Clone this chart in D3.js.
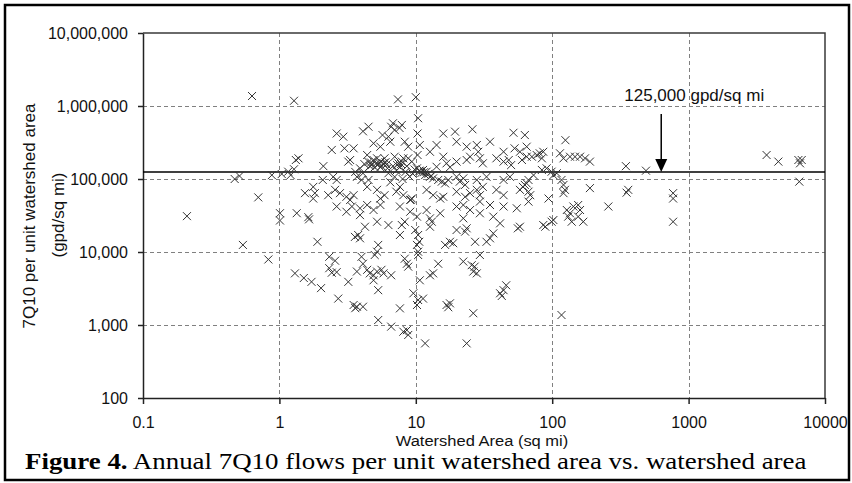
<!DOCTYPE html>
<html>
<head>
<meta charset="utf-8">
<script src="https://cdn.jsdelivr.net/npm/d3@7/dist/d3.min.js"></script>
<style>
  body { margin: 0; background: #fff; }
  svg { display: block; }
  .tick text { font-family: 'Liberation Sans', Arial, sans-serif; font-size: 16px; fill: #111; }
</style>
</head>
<body>
<svg id="chart" width="852" height="483"></svg>
<script>
// gauged sites: [watershed area (sq mi), 7Q10 per unit area (gpd/sq mi)]
const sitesBelow1 = [
  [0.63, 1370000], [0.88, 113000], [0.51, 110000], [0.47, 100000], [0.70, 56000],
  [0.21, 31000], [0.54, 12500], [0.83, 7900]
]
const sites1to10 = [
  [1.28, 1180000], [1.38, 192000], [1.32, 182000], [2.1, 150000], [1.28, 136000], [1.16, 126000],
  [1.04, 117000], [1.21, 113000], [2.08, 97000], [1.77, 78000], [1.54, 64000], [1.82, 64000],
  [1.77, 54000], [2.28, 60000], [1.01, 34000], [1.01, 27000], [1.34, 34000], [1.63, 30000],
  [1.65, 28000], [1.9, 13800], [1.3, 5100], [1.51, 4400], [1.72, 3900], [2.02, 3200],
  [7.4, 1230000], [2.63, 420000], [2.94, 380000], [4.1, 450000], [5.7, 400000], [6.8, 580000],
  [6.6, 520000], [7.9, 550000], [4.5, 520000], [7.0, 470000], [7.6, 500000],
  [2.42, 250000], [3.0, 263000], [3.5, 263000], [4.9, 308000], [5.5, 277000], [6.3, 380000],
  [6.5, 324000], [8.3, 324000], [8.8, 277000],
  [3.2, 173000], [3.3, 182000], [4.4, 213000], [4.9, 182000], [5.2, 192000], [5.5, 173000],
  [5.8, 164000], [4.75, 155000], [5.0, 145000], [5.5, 145000], [5.9, 192000], [4.5, 171000],
  [7.0, 202000], [7.45, 164000], [7.65, 145000], [7.9, 173000], [8.1, 192000], [8.8, 192000],
  [9.35, 173000], [4.2, 160000], [4.7, 168000], [5.3, 158000], [5.6, 150000], [6.0, 170000],
  [6.2, 140000], [6.8, 150000], [7.2, 130000], [8.4, 125000], [9.5, 118000], [9.0, 108000],
  [3.9, 140000], [3.6, 125000], [8.0, 100000], [6.5, 90000],
  [4.6, 150000], [5.1, 162000], [5.4, 166000], [6.1, 158000], [7.3, 155000], [7.8, 160000],
  [8.6, 150000], [9.8, 135000],
  [2.48, 107000], [2.63, 97000], [3.7, 107000], [4.1, 120000], [4.0, 97000], [4.5, 97000],
  [6.3, 120000], [7.0, 107000],
  [2.56, 71000], [2.78, 64000], [3.1, 57000], [3.5, 60000], [4.4, 78000], [5.2, 71000],
  [5.9, 60000], [5.5, 54000], [7.65, 78000], [7.2, 67000], [8.1, 60000], [9.1, 51500],
  [9.35, 54000], [9.2, 52000],
  [2.63, 42000], [3.1, 35600], [3.9, 39700], [4.4, 44000], [4.9, 37600], [5.5, 44000],
  [7.65, 42000], [9.1, 35600], [3.4, 42000], [3.9, 32000], [3.3, 51500],
  [3.58, 16100], [3.78, 17100], [3.9, 15400], [4.24, 22200], [5.2, 26000], [6.3, 23400],
  [7.9, 23400], [8.3, 26000], [7.65, 17100], [9.9, 20000], [5.3, 12500], [5.2, 10100],
  [5.0, 9100], [4.0, 8600], [4.1, 6900], [2.32, 8600], [2.56, 7600], [2.32, 6000],
  [2.42, 5200], [2.63, 5300], [8.3, 8100], [8.6, 6900], [8.8, 6300], [3.7, 5400],
  [4.4, 5700], [4.6, 5100], [4.9, 4800], [5.2, 5400], [5.6, 5700], [5.8, 5100],
  [6.6, 4800], [3.2, 3900], [4.9, 4100], [5.3, 3000], [2.7, 2300], [3.5, 1880],
  [3.7, 1780], [3.6, 1700], [4.1, 1780], [7.65, 1690], [9.6, 2720], [5.3, 1170],
  [6.6, 950], [8.1, 810], [8.8, 730], [8.6, 850]
]
const sites10to100 = [
  [10.0, 1320000], [10.4, 680000], [10.3, 420000], [15.9, 420000], [19.4, 445000], [26, 480000],
  [52, 430000], [63, 400000],
  [10.7, 292000], [12.7, 236000], [14.2, 292000], [15.9, 202000], [19.9, 324000], [23.6, 277000],
  [28, 292000], [28.7, 236000], [35, 324000], [44, 236000], [53, 263000], [58, 236000], [65, 277000],
  [10.3, 213000], [10.2, 140000], [10.6, 130000], [11.3, 133000], [12.0, 126000], [14.2, 147000],
  [16.8, 164000], [17.8, 145000], [19.9, 173000], [23.6, 182000], [25, 202000], [29.5, 192000],
  [31, 164000], [39, 192000], [44, 173000], [48, 182000], [50, 155000], [60, 182000], [65, 202000],
  [11.0, 121000], [12.4, 118000], [13.0, 110000], [10.8, 128000], [11.5, 124000],
  [11.7, 113000], [12.7, 107000], [13.4, 102000], [14.6, 97000], [15.5, 92000], [16.4, 87000],
  [17.3, 97000], [19.9, 107000], [21, 92000], [22.3, 102000], [23, 83000], [33, 107000],
  [28, 97000], [31, 78000], [44, 97000], [49, 107000], [61, 78000], [65, 87000],
  [12.0, 71000], [13.4, 60000], [15.1, 54000], [15.9, 57000], [19.9, 67000], [23, 57000],
  [25, 64000], [28, 71000], [29.5, 60000], [39, 71000], [44, 60000], [58, 71000],
  [10.2, 30500], [12.0, 37600], [12.7, 28900], [15.1, 33900], [19.9, 42000], [22.3, 44000],
  [25, 37600], [29.5, 33900], [35, 44000], [37, 30500], [44, 42000], [55, 39700],
  [22.3, 28900], [29.5, 49000],
  [10.4, 17100], [10.6, 13800], [10.2, 12500], [12.7, 22200], [13.1, 26000], [16.4, 12500],
  [17.8, 13800], [18.8, 13200], [19.9, 20000], [23, 19000], [23.6, 21100], [27.2, 13800],
  [33, 13800], [35, 15400], [37, 18000], [41.5, 24700], [56, 21100],
  [10.4, 10100], [10.4, 9100], [14.6, 6900], [13.4, 5100], [12.7, 4800], [22.3, 7400],
  [25.7, 6600], [27, 6300], [26.4, 5400], [28, 5100], [29.5, 9100], [10.7, 4100],
  [10.4, 2200], [11.3, 2300], [10.2, 1880], [16.8, 1880], [17.8, 1980], [17.3, 1750],
  [26.4, 1450], [41.5, 2720], [44, 3000], [46, 3500], [42.7, 2500], [11.7, 560], [23.6, 560],
  [71, 202000], [77, 213000], [81, 225000], [84, 192000], [86, 236000], [84, 133000],
  [91, 140000], [99, 126000], [73, 113000], [67, 97000], [63, 83000], [67, 67000],
  [69, 60000], [67, 49000], [94, 54000], [86, 23400], [89, 22200], [99, 26000], [58, 22200]
]
const sitesOver100 = [
  [117, 1370], [125, 340000], [114, 225000], [121, 192000], [135, 202000], [147, 202000],
  [160, 202000], [174, 192000], [189, 173000], [102, 113000], [108, 120000], [117, 97000],
  [121, 83000], [124, 71000], [121, 64000], [189, 75000], [258, 42000], [347, 150000],
  [487, 130000], [361, 71000], [351, 65000], [770, 64000], [770, 54000], [770, 26000],
  [128, 37600], [135, 33900], [143, 42000], [155, 44000], [160, 37600], [131, 30500],
  [139, 26000], [169, 26000], [155, 30500], [102, 27400],
  [3730, 213000], [4550, 173000], [6380, 182000], [6750, 182000], [6560, 164000], [6480, 92000]
]

const xTicks = [0.1, 1, 10, 100, 1000, 10000]
const xTickLabels = ['0.1', '1', '10', '100', '1000', '10000']
const yTicks = [100, 1000, 10000, 100000, 1000000, 10000000]
const yTickLabels = ['100', '1,000', '10,000', '100,000', '1,000,000', '10,000,000']
const threshold = 125000
const thresholdLabel = '125,000 gpd/sq mi'
const arrowArea = 630

const sans = "'Liberation Sans', Arial, sans-serif"
const serif = "'Liberation Serif', 'Times New Roman', serif"

let svg = d3.select('#chart')
const plot = { left: 143, top: 33, right: 825, bottom: 398 }

svg.append('rect').attr('width', 852).attr('height', 483).attr('fill', '#fff')

// outer figure frame
svg.append('rect')
  .attr('x', 5).attr('y', 5).attr('width', 844).attr('height', 475)
  .attr('fill', 'none').attr('stroke', '#000').attr('stroke-width', 2.5)

const x = d3.scaleLog().domain([0.1, 10000]).range([plot.left, plot.right])
const y = d3.scaleLog().domain([100, 10000000]).range([plot.bottom, plot.top])

// dashed grid
const grid = svg.append('g').attr('class', 'grid')
  .attr('stroke', '#808080').attr('stroke-width', 1).attr('stroke-dasharray', '4,3')
grid.selectAll('.gx')
  .data(xTicks.slice(1, -1))
  .enter().append('line')
  .attr('x1', (d) => Math.round(x(d)) + 0.5).attr('x2', (d) => Math.round(x(d)) + 0.5)
  .attr('y1', plot.top).attr('y2', plot.bottom)
grid.selectAll('.gy')
  .data(yTicks.slice(1, -1))
  .enter().append('line')
  .attr('y1', (d) => Math.round(y(d)) + 0.5).attr('y2', (d) => Math.round(y(d)) + 0.5)
  .attr('x1', plot.left).attr('x2', plot.right)

// plot frame (top, right)
svg.append('path')
  .attr('d', `M${plot.left},${plot.top}H${plot.right}V${plot.bottom}`)
  .attr('fill', 'none').attr('stroke', '#3a3a3a').attr('stroke-width', 1.5)

// axes
const xAxis = svg.append('g')
  .attr('transform', `translate(0,${plot.bottom})`)
  .call(d3.axisBottom(x).tickValues(xTicks).tickSize(6).tickSizeOuter(0)
    .tickFormat((d, i) => xTickLabels[i]))
xAxis.select('.domain').attr('stroke', '#222').attr('stroke-width', 1.5)
xAxis.selectAll('.tick line').attr('stroke', '#222').attr('stroke-width', 1.5)
xAxis.selectAll('.tick text').attr('y', 30).attr('dy', 0)

const yAxis = svg.append('g')
  .attr('transform', `translate(${plot.left},0)`)
  .call(d3.axisLeft(y).tickValues(yTicks).tickSize(5).tickSizeOuter(0)
    .tickFormat((d, i) => yTickLabels[i]))
yAxis.select('.domain').attr('stroke', '#222').attr('stroke-width', 1.5)
yAxis.selectAll('.tick line').attr('stroke', '#222').attr('stroke-width', 1.5)
yAxis.selectAll('.tick text').attr('x', -15)

// 125,000 gpd/sq mi reference line
svg.append('line')
  .attr('x1', plot.left).attr('x2', plot.right)
  .attr('y1', y(threshold)).attr('y2', y(threshold))
  .attr('stroke', '#000').attr('stroke-width', 1.5)

// site markers
const allSites = [].concat(sitesBelow1, sites1to10, sites10to100, sitesOver100)
svg.append('g').attr('class', 'sites')
  .selectAll('path')
  .data(allSites)
  .enter().append('path')
  .attr('transform', (d) => `translate(${x(d[0])},${y(d[1])})`)
  .attr('d', 'M-4,-4L4,4M-4,4L4,-4')
  .attr('fill', 'none').attr('stroke', '#333').attr('stroke-width', 1)

// annotation arrow
const ax = x(arrowArea)
const tipY = y(threshold)
svg.append('line')
  .attr('x1', ax).attr('x2', ax).attr('y1', tipY - 58).attr('y2', tipY - 12)
  .attr('stroke', '#000').attr('stroke-width', 1.5)
svg.append('path')
  .attr('d', `M${ax - 6},${tipY - 13}L${ax + 6},${tipY - 13}L${ax},${tipY}Z`)
  .attr('fill', '#000')
svg.append('text')
  .attr('x', ax + 33).attr('y', tipY - 71)
  .attr('text-anchor', 'middle')
  .attr('font-family', sans).attr('font-size', 17).attr('fill', '#111')
  .text(thresholdLabel)

// axis titles
svg.append('text')
  .attr('x', (plot.left + plot.right) / 2 - 2).attr('y', 446)
  .attr('text-anchor', 'middle')
  .attr('font-family', sans).attr('font-size', 15).attr('fill', '#111')
  .attr('transform', `translate(${(plot.left + plot.right) / 2 - 2},0) scale(1.1,1) translate(${-((plot.left + plot.right) / 2 - 2)},0)`)
  .text('Watershed Area (sq mi)')
svg.append('text')
  .attr('transform', 'translate(35,216) rotate(-90)')
  .attr('text-anchor', 'middle')
  .attr('font-family', sans).attr('font-size', 17).attr('fill', '#111')
  .text('7Q10 per unit watershed area')
svg.append('text')
  .attr('transform', 'translate(64,215) rotate(-90)')
  .attr('text-anchor', 'middle')
  .attr('font-family', sans).attr('font-size', 17).attr('fill', '#111')
  .text('(gpd/sq mi)')

// figure caption
const caption = svg.append('text')
  .attr('font-family', serif).attr('font-size', 23).attr('fill', '#000')
caption.append('tspan').attr('font-weight', 'bold').text('Figure 4.')
caption.append('tspan').text(' Annual 7Q10 flows per unit watershed area vs. watershed area')
const capWidth = caption.node().getComputedTextLength()
caption.attr('transform', `translate(25,469) scale(${782 / capWidth},1)`)
</script>
</body>
</html>
